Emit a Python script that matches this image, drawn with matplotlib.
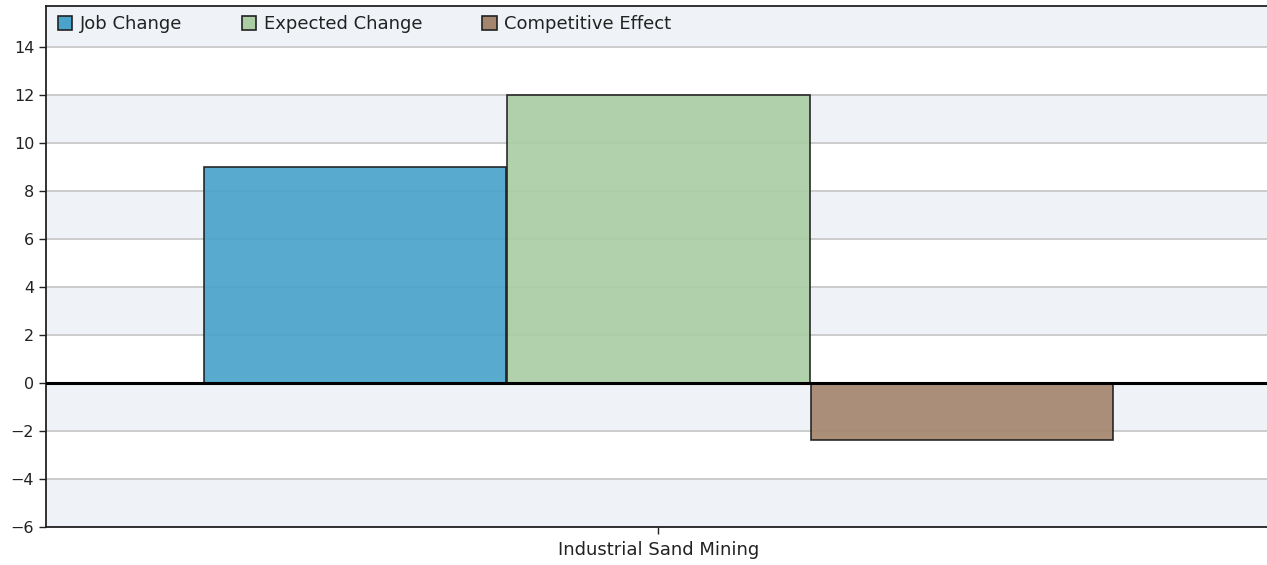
import matplotlib
matplotlib.use("Agg")
import matplotlib.pyplot as plt
from matplotlib.patches import Patch

# data
category = "Industrial Sand Mining"
series = ["Job Change", "Expected Change", "Competitive Effect"]
values = [9, 12, -2.36]
colors = ["#4aa3cb", "#aacda4", "#a4866e"]
yticks = [-6, -4, -2, 0, 2, 4, 6, 8, 10, 12, 14]

plt.rcParams['font.family'] = ['DejaVu Sans']

fig = plt.figure(figsize=(12.67, 5.65), dpi=100)
ax = fig.add_axes([46/1267, 38/565, 1225/1267, 521/565])

ymin, ymax = -6, 15.7
# alternating bands
band = "#eff3f8"
for lo in range(-6, 16, 4):
    ax.axhspan(lo, lo + 2, color=band, zorder=0, lw=0)
ax.axhspan(14, ymax, color=band, zorder=0, lw=0)
for y in yticks:
    if y != 0:
        ax.axhline(y, color="#c8c8c8", lw=1.3, zorder=1)

xs = [-1, 0, 1]
for x, v, c in zip(xs, values, colors):
    ax.bar(x, v, width=0.995, color=c, alpha=0.92, edgecolor="#1a1a1a", lw=1.2, zorder=2)
ax.axhline(0, color="black", lw=2.2, zorder=3)

ax.set_xlim(-2.017, 2.017)
ax.set_ylim(ymin, ymax)
ax.set_yticks(yticks)
ax.set_yticklabels([str(t).replace("-", "\u2212") for t in yticks], fontsize=11.5, color="#222222")
ax.set_xticks([0])
ax.set_xticklabels([category], fontsize=13, color="#222222")
ax.tick_params(axis="both", direction="out", length=5, width=1, color="#222222")
ax.tick_params(axis="x", pad=5)
for s in ["left", "bottom", "top"]:
    ax.spines[s].set_linewidth(1.3)
    ax.spines[s].set_color("#222222")
ax.spines["right"].set_visible(False)

handles = [Patch(facecolor=c, edgecolor="#222222", lw=1.2, label=s) for s, c in zip(series, colors)]
leg = ax.legend(handles=handles, loc="upper left", ncol=3, frameon=False, fontsize=13,
                handlelength=0.8, handleheight=0.8, handletextpad=0.4, columnspacing=3.32,
                borderpad=0, borderaxespad=0, bbox_to_anchor=(12/1225, 1 - 9/521))
for t in leg.get_texts():
    t.set_color("#222222")

fig.savefig("out.png", dpi=100)
